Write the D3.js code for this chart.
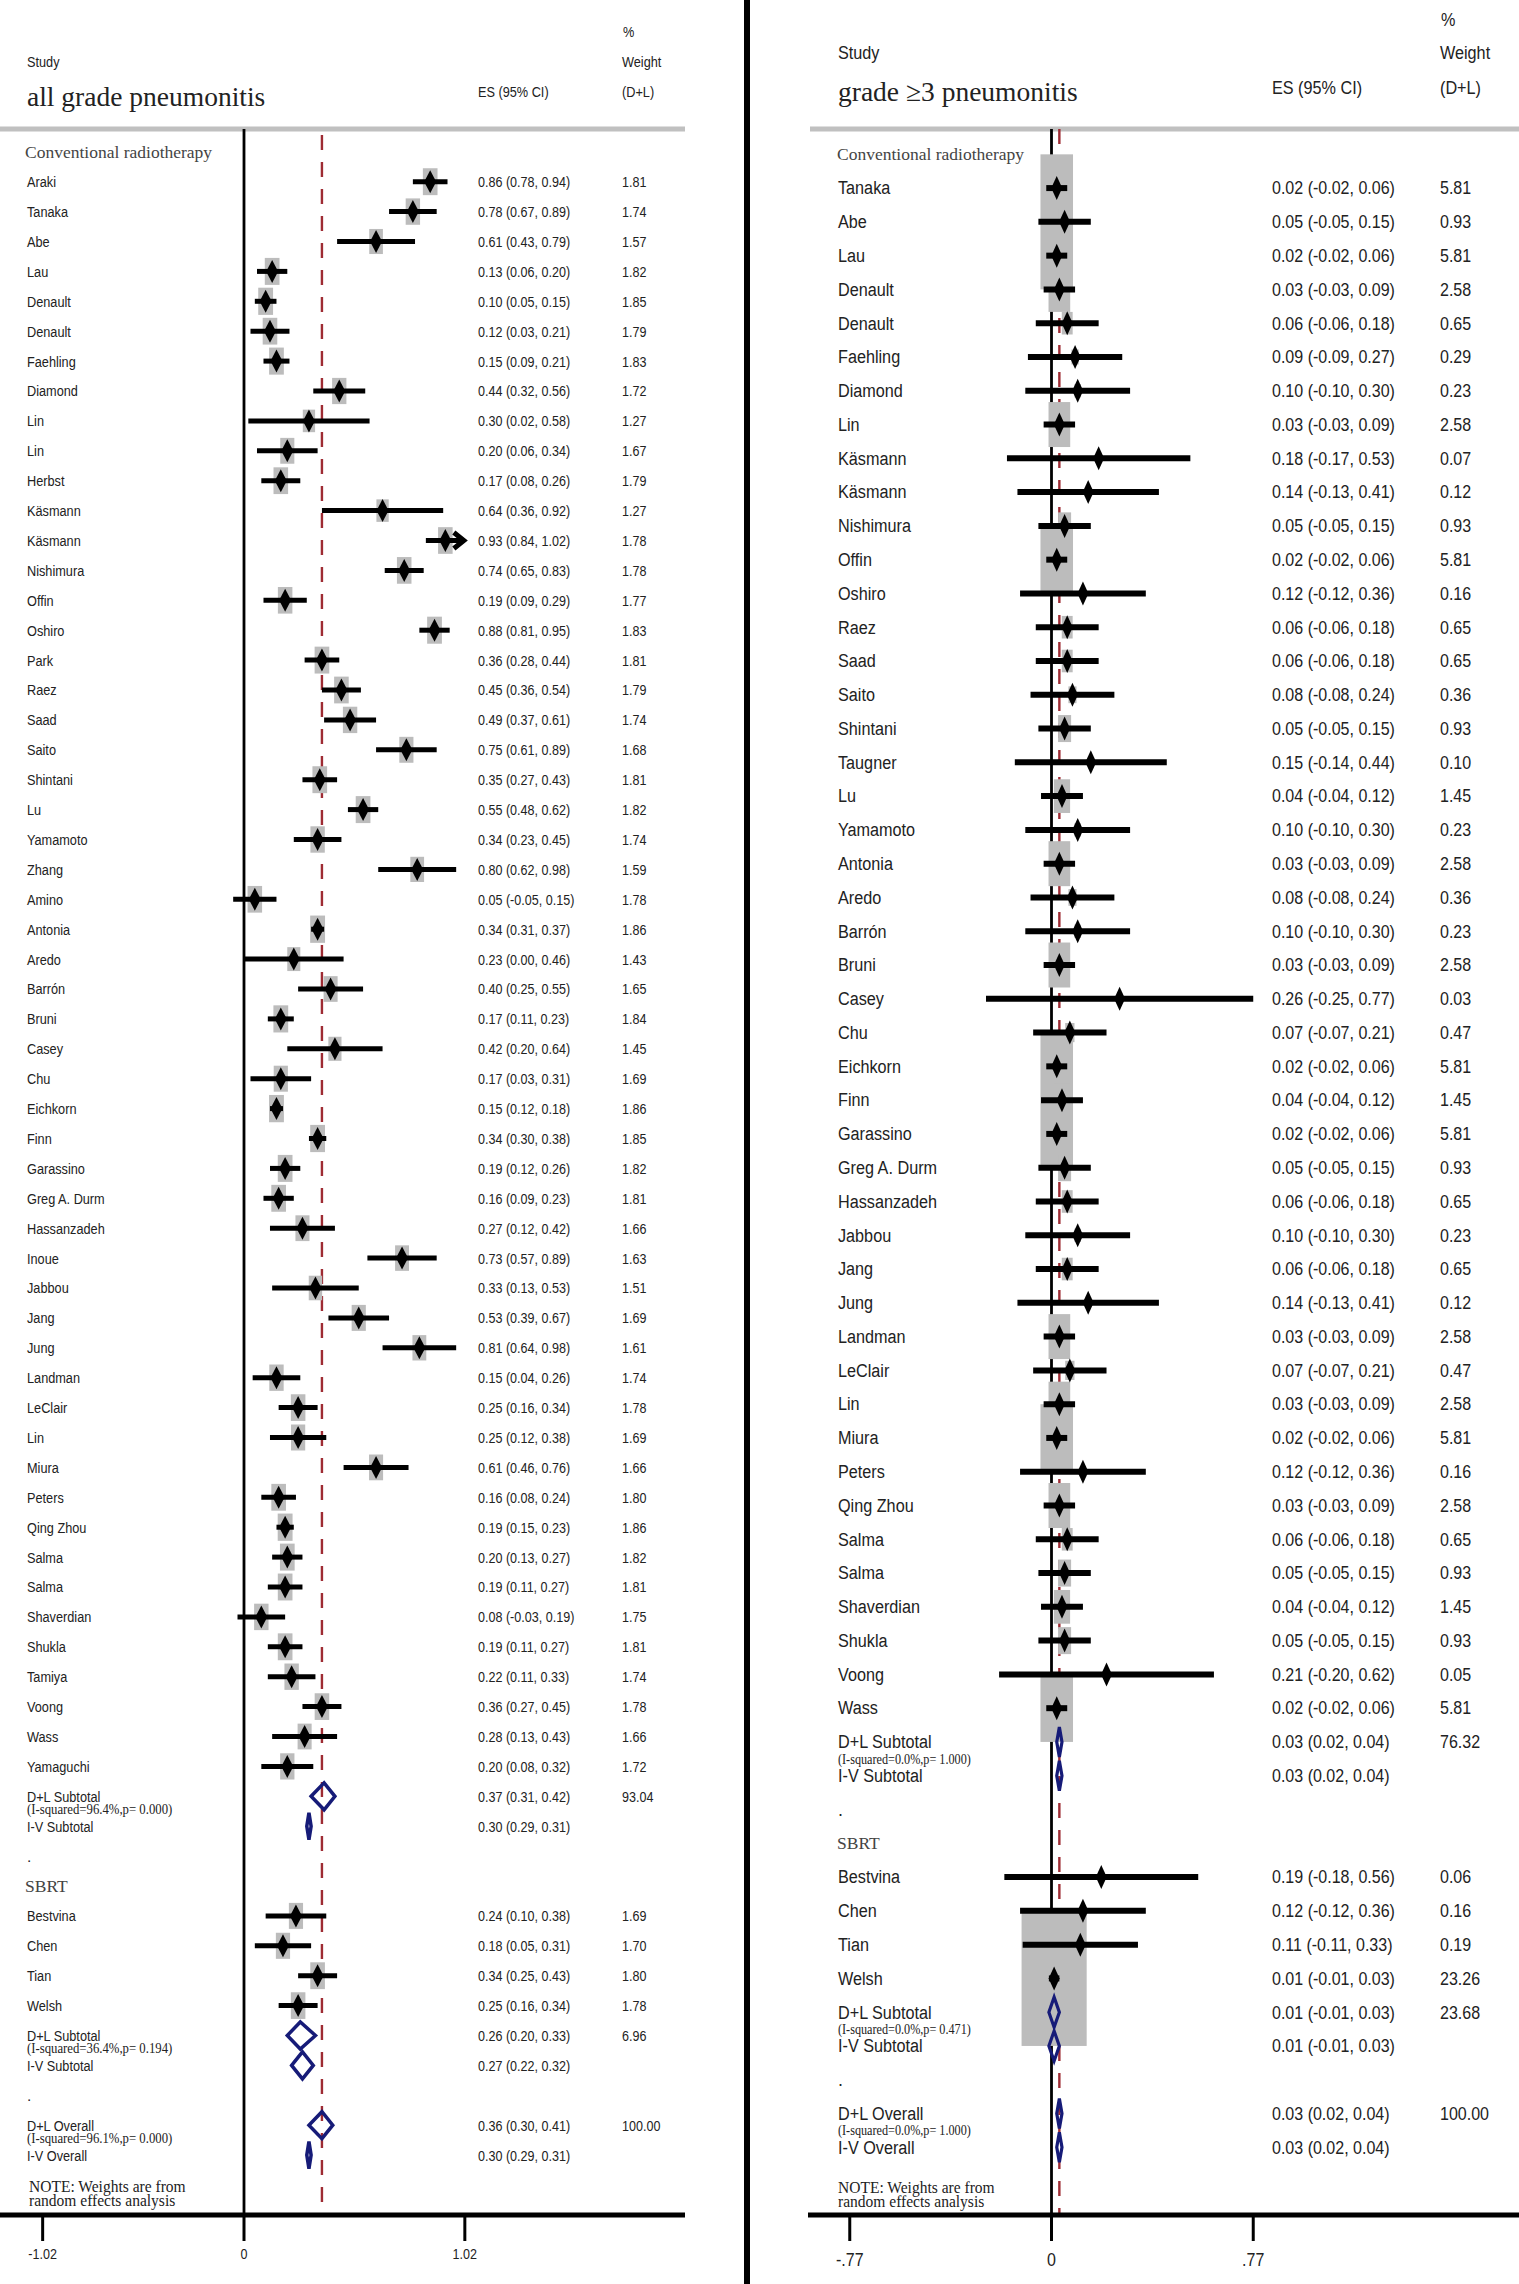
<!DOCTYPE html>
<html>
<head>
<meta charset="utf-8">
<script src="https://cdn.jsdelivr.net/npm/d3@7"></script>
<style>
  body { margin: 0; background: #fff; }
</style>
</head>
<body>
<svg id="chart"></svg>
<script>
// ---------- all grade pneumonitis ----------
const allConvNames = ["Araki", "Tanaka", "Abe", "Lau", "Denault", "Denault", "Faehling", "Diamond", "Lin", "Lin",
  "Herbst", "Käsmann", "Käsmann", "Nishimura", "Offin", "Oshiro", "Park", "Raez", "Saad", "Saito",
  "Shintani", "Lu", "Yamamoto", "Zhang", "Amino", "Antonia", "Aredo", "Barrón", "Bruni", "Casey",
  "Chu", "Eichkorn", "Finn", "Garassino", "Greg A. Durm", "Hassanzadeh", "Inoue", "Jabbou", "Jang", "Jung",
  "Landman", "LeClair", "Lin", "Miura", "Peters", "Qing Zhou", "Salma", "Salma", "Shaverdian", "Shukla",
  "Tamiya", "Voong", "Wass", "Yamaguchi"]
const allConvEs = [0.86, 0.78, 0.61, 0.13, 0.10, 0.12, 0.15, 0.44, 0.30, 0.20,
  0.17, 0.64, 0.93, 0.74, 0.19, 0.88, 0.36, 0.45, 0.49, 0.75,
  0.35, 0.55, 0.34, 0.80, 0.05, 0.34, 0.23, 0.40, 0.17, 0.42,
  0.17, 0.15, 0.34, 0.19, 0.16, 0.27, 0.73, 0.33, 0.53, 0.81,
  0.15, 0.25, 0.25, 0.61, 0.16, 0.19, 0.20, 0.19, 0.08, 0.19,
  0.22, 0.36, 0.28, 0.20]
const allConvLo = [0.78, 0.67, 0.43, 0.06, 0.05, 0.03, 0.09, 0.32, 0.02, 0.06,
  0.08, 0.36, 0.84, 0.65, 0.09, 0.81, 0.28, 0.36, 0.37, 0.61,
  0.27, 0.48, 0.23, 0.62, -0.05, 0.31, 0.00, 0.25, 0.11, 0.20,
  0.03, 0.12, 0.30, 0.12, 0.09, 0.12, 0.57, 0.13, 0.39, 0.64,
  0.04, 0.16, 0.12, 0.46, 0.08, 0.15, 0.13, 0.11, -0.03, 0.11,
  0.11, 0.27, 0.13, 0.08]
const allConvHi = [0.94, 0.89, 0.79, 0.20, 0.15, 0.21, 0.21, 0.56, 0.58, 0.34,
  0.26, 0.92, 1.02, 0.83, 0.29, 0.95, 0.44, 0.54, 0.61, 0.89,
  0.43, 0.62, 0.45, 0.98, 0.15, 0.37, 0.46, 0.55, 0.23, 0.64,
  0.31, 0.18, 0.38, 0.26, 0.23, 0.42, 0.89, 0.53, 0.67, 0.98,
  0.26, 0.34, 0.38, 0.76, 0.24, 0.23, 0.27, 0.27, 0.19, 0.27,
  0.33, 0.45, 0.43, 0.32]
const allConvWt = [1.81, 1.74, 1.57, 1.82, 1.85, 1.79, 1.83, 1.72, 1.27, 1.67,
  1.79, 1.27, 1.78, 1.78, 1.77, 1.83, 1.81, 1.79, 1.74, 1.68,
  1.81, 1.82, 1.74, 1.59, 1.78, 1.86, 1.43, 1.65, 1.84, 1.45,
  1.69, 1.86, 1.85, 1.82, 1.81, 1.66, 1.63, 1.51, 1.69, 1.61,
  1.74, 1.78, 1.69, 1.66, 1.80, 1.86, 1.82, 1.81, 1.75, 1.81,
  1.74, 1.78, 1.66, 1.72]
const allSbrtNames = ["Bestvina", "Chen", "Tian", "Welsh"]
const allSbrtEs = [0.24, 0.18, 0.34, 0.25]
const allSbrtLo = [0.10, 0.05, 0.25, 0.16]
const allSbrtHi = [0.38, 0.31, 0.43, 0.34]
const allSbrtWt = [1.69, 1.70, 1.80, 1.78]
// pooled rows: conv D+L, conv I-V, SBRT D+L, SBRT I-V, overall D+L, overall I-V
const allPoolEs = [0.37, 0.30, 0.26, 0.27, 0.36, 0.30]
const allPoolLo = [0.31, 0.29, 0.20, 0.22, 0.30, 0.29]
const allPoolHi = [0.42, 0.31, 0.33, 0.32, 0.41, 0.31]
const allPoolWt = [93.04, null, 6.96, null, 100.00, null]
const allHet = ["(I-squared=96.4%,p= 0.000)", "(I-squared=36.4%,p= 0.194)", "(I-squared=96.1%,p= 0.000)"]
const allTickVals = [-0.93, 0, 1.02]
const allTickLabels = ["-1.02", "0", "1.02"]

// ---------- grade >=3 pneumonitis ----------
const g3ConvNames = ["Tanaka", "Abe", "Lau", "Denault", "Denault", "Faehling", "Diamond", "Lin", "Käsmann", "Käsmann",
  "Nishimura", "Offin", "Oshiro", "Raez", "Saad", "Saito", "Shintani", "Taugner", "Lu", "Yamamoto",
  "Antonia", "Aredo", "Barrón", "Bruni", "Casey", "Chu", "Eichkorn", "Finn", "Garassino", "Greg A. Durm",
  "Hassanzadeh", "Jabbou", "Jang", "Jung", "Landman", "LeClair", "Lin", "Miura", "Peters", "Qing Zhou",
  "Salma", "Salma", "Shaverdian", "Shukla", "Voong", "Wass"]
const g3ConvEs = [0.02, 0.05, 0.02, 0.03, 0.06, 0.09, 0.10, 0.03, 0.18, 0.14,
  0.05, 0.02, 0.12, 0.06, 0.06, 0.08, 0.05, 0.15, 0.04, 0.10,
  0.03, 0.08, 0.10, 0.03, 0.26, 0.07, 0.02, 0.04, 0.02, 0.05,
  0.06, 0.10, 0.06, 0.14, 0.03, 0.07, 0.03, 0.02, 0.12, 0.03,
  0.06, 0.05, 0.04, 0.05, 0.21, 0.02]
const g3ConvLo = [-0.02, -0.05, -0.02, -0.03, -0.06, -0.09, -0.10, -0.03, -0.17, -0.13,
  -0.05, -0.02, -0.12, -0.06, -0.06, -0.08, -0.05, -0.14, -0.04, -0.10,
  -0.03, -0.08, -0.10, -0.03, -0.25, -0.07, -0.02, -0.04, -0.02, -0.05,
  -0.06, -0.10, -0.06, -0.13, -0.03, -0.07, -0.03, -0.02, -0.12, -0.03,
  -0.06, -0.05, -0.04, -0.05, -0.20, -0.02]
const g3ConvHi = [0.06, 0.15, 0.06, 0.09, 0.18, 0.27, 0.30, 0.09, 0.53, 0.41,
  0.15, 0.06, 0.36, 0.18, 0.18, 0.24, 0.15, 0.44, 0.12, 0.30,
  0.09, 0.24, 0.30, 0.09, 0.77, 0.21, 0.06, 0.12, 0.06, 0.15,
  0.18, 0.30, 0.18, 0.41, 0.09, 0.21, 0.09, 0.06, 0.36, 0.09,
  0.18, 0.15, 0.12, 0.15, 0.62, 0.06]
const g3ConvWt = [5.81, 0.93, 5.81, 2.58, 0.65, 0.29, 0.23, 2.58, 0.07, 0.12,
  0.93, 5.81, 0.16, 0.65, 0.65, 0.36, 0.93, 0.10, 1.45, 0.23,
  2.58, 0.36, 0.23, 2.58, 0.03, 0.47, 5.81, 1.45, 5.81, 0.93,
  0.65, 0.23, 0.65, 0.12, 2.58, 0.47, 2.58, 5.81, 0.16, 2.58,
  0.65, 0.93, 1.45, 0.93, 0.05, 5.81]
const g3SbrtNames = ["Bestvina", "Chen", "Tian", "Welsh"]
const g3SbrtEs = [0.19, 0.12, 0.11, 0.01]
const g3SbrtLo = [-0.18, -0.12, -0.11, -0.01]
const g3SbrtHi = [0.56, 0.36, 0.33, 0.03]
const g3SbrtWt = [0.06, 0.16, 0.19, 23.26]
const g3PoolEs = [0.03, 0.03, 0.01, 0.01, 0.03, 0.03]
const g3PoolLo = [0.02, 0.02, -0.01, -0.01, 0.02, 0.02]
const g3PoolHi = [0.04, 0.04, 0.03, 0.03, 0.04, 0.04]
const g3PoolWt = [76.32, null, 23.68, null, 100.00, null]
const g3Het = ["(I-squared=0.0%,p= 1.000)", "(I-squared=0.0%,p= 0.471)", "(I-squared=0.0%,p= 1.000)"]
const g3TickVals = [-0.77, 0, 0.77]
const g3TickLabels = ["-.77", "0", ".77"]

const W = 1519, H = 2284
const SANS = "'Liberation Sans', Arial, sans-serif"
const SERIF = "'Liberation Serif', 'Times New Roman', serif"
const NAVY = '#161b78'
const REDLINE = '#9e2b33'
const BOXGRAY = '#bcbcbc'

const svg = d3.select('#chart')
    .attr('width', W)
    .attr('height', H)
svg.append('rect')
    .attr('width', W)
    .attr('height', H)
    .attr('fill', '#fff')

// squeeze text horizontally (the original uses a narrow face)
function squeeze(sel, f) {
    sel.each(function() {
        let len = this.getComputedTextLength()
        if (len > 0) {
            d3.select(this)
                .attr('textLength', len * f)
                .attr('lengthAdjust', 'spacingAndGlyphs')
        }
    })
    return sel
}

function fmt(v) {
    return v.toFixed(2)
}

function buildRows(d) {
    let rows = []
    rows.push({ type: 'group', label: 'Conventional radiotherapy' })
    d.convNames.forEach((n, i) => {
        rows.push({ type: 'study', label: n, es: d.convEs[i], lo: d.convLo[i], hi: d.convHi[i], wt: d.convWt[i] })
    })
    rows.push({ type: 'pool', label: 'D+L Subtotal', k: 0, het: d.het[0] })
    rows.push({ type: 'pool', label: 'I-V Subtotal', k: 1 })
    rows.push({ type: 'dot' })
    rows.push({ type: 'group', label: 'SBRT' })
    d.sbrtNames.forEach((n, i) => {
        rows.push({ type: 'study', label: n, es: d.sbrtEs[i], lo: d.sbrtLo[i], hi: d.sbrtHi[i], wt: d.sbrtWt[i] })
    })
    rows.push({ type: 'pool', label: 'D+L Subtotal', k: 2, het: d.het[1] })
    rows.push({ type: 'pool', label: 'I-V Subtotal', k: 3 })
    rows.push({ type: 'dot' })
    rows.push({ type: 'pool', label: 'D+L Overall', k: 4, het: d.het[2] })
    rows.push({ type: 'pool', label: 'I-V Overall', k: 5 })
    rows.push({ type: 'note' })
    rows.forEach((r, i) => {
        r.i = i
        if (r.type == 'pool') {
            r.es = d.poolEs[r.k]
            r.lo = d.poolLo[r.k]
            r.hi = d.poolHi[r.k]
            r.wt = d.poolWt[r.k]
        }
    })
    return rows
}

function drawPanel(c, d) {
    let g = svg.append('g')
    let x = d3.scaleLinear()
        .domain([0, 1])
        .range([c.zeroX, c.zeroX + c.ppu])
    let rows = buildRows(d)
    let y = d3.scaleLinear()
        .domain([0, 1])
        .range([c.y0, c.y0 + c.step])
    let studies = rows.filter(r => r.type == 'study')
    let pools = rows.filter(r => r.type == 'pool')

    // header
    g.append('line')
        .attr('x1', c.hdrX1).attr('x2', c.hdrX2)
        .attr('y1', 129).attr('y2', 129)
        .attr('stroke', '#c0c0c0').attr('stroke-width', 5)

    let hdr = [
        ['Study', c.nameX, c.hStudyY],
        ['ES (95% CI)', c.esX, c.hEsY],
        ['%', c.wtX + 1, c.hPctY],
        ['Weight', c.wtX, c.hStudyY],
        ['(D+L)', c.wtX, c.hEsY]
    ]
    hdr.forEach(h => {
        squeeze(g.append('text')
            .attr('x', h[1]).attr('y', h[2])
            .attr('dy', '0.35em')
            .attr('font-family', SANS)
            .attr('font-size', c.fs)
            .attr('fill', '#222')
            .text(h[0]), c.sqName)
    })
    g.append('text')
        .attr('x', c.nameX).attr('y', c.titleY)
        .attr('dy', '0.32em')
        .attr('font-family', SERIF)
        .attr('font-size', 27.5)
        .attr('fill', '#222')
        .text(c.title)

    // zero line and overall (D+L) reference line
    g.append('line')
        .attr('x1', x(0)).attr('x2', x(0))
        .attr('y1', 129).attr('y2', c.axisY)
        .attr('stroke', '#000').attr('stroke-width', 2.8)
    let ref = d.poolEs[4]
    g.append('line')
        .attr('x1', x(ref)).attr('x2', x(ref))
        .attr('y1', c.refTop).attr('y2', c.axisY)
        .attr('stroke', REDLINE).attr('stroke-width', 2.4)
        .attr('stroke-dasharray', '15 12')

    // weight boxes
    g.selectAll('.box')
        .data(studies)
        .enter().append('rect')
        .attr('class', 'box')
        .attr('x', r => x(r.es) - c.boxW * Math.sqrt(r.wt) / 2)
        .attr('y', r => y(r.i) - c.boxH * Math.sqrt(r.wt) / 2)
        .attr('width', r => c.boxW * Math.sqrt(r.wt))
        .attr('height', r => c.boxH * Math.sqrt(r.wt))
        .attr('fill', BOXGRAY)

    // confidence intervals (an arrow marks a CI running past the axis end)
    let xMax = d.tickVals[d.tickVals.length - 1]
    let clipped = r => c.arrows && r.hi >= xMax
    g.selectAll('.ci')
        .data(studies)
        .enter().append('line')
        .attr('class', 'ci')
        .attr('x1', r => x(r.lo))
        .attr('x2', r => clipped(r) ? x(xMax) - 4 : x(r.hi))
        .attr('y1', r => y(r.i)).attr('y2', r => y(r.i))
        .attr('stroke', '#000').attr('stroke-width', c.ciW)
    g.selectAll('.arrow')
        .data(studies.filter(clipped))
        .enter().append('path')
        .attr('class', 'arrow')
        .attr('d', r => {
            let tx = x(xMax), ty = y(r.i)
            return 'M' + (tx - 11) + ',' + (ty - 8) + 'L' + (tx - 1) + ',' + ty + 'L' + (tx - 11) + ',' + (ty + 8)
        })
        .attr('fill', 'none').attr('stroke', '#000').attr('stroke-width', 5)

    // point estimates
    g.selectAll('.mk')
        .data(studies)
        .enter().append('path')
        .attr('class', 'mk')
        .attr('d', r => {
            let cx = x(r.es), cy = y(r.i), w = c.mkW / 2, h = c.mkH / 2
            return 'M' + (cx - w) + ',' + cy + 'L' + cx + ',' + (cy - h) + 'L' + (cx + w) + ',' + cy + 'L' + cx + ',' + (cy + h) + 'Z'
        })
        .attr('fill', '#000')

    // pooled diamonds
    g.selectAll('.dia')
        .data(pools)
        .enter().append('path')
        .attr('class', 'dia')
        .attr('d', r => {
            let cy = y(r.i), h = c.diaH / 2
            return 'M' + x(r.lo) + ',' + cy + 'L' + x(r.es) + ',' + (cy - h) + 'L' + x(r.hi) + ',' + cy + 'L' + x(r.es) + ',' + (cy + h) + 'Z'
        })
        .attr('fill', 'none')
        .attr('stroke', NAVY).attr('stroke-width', c.diaSW)
        .attr('stroke-linejoin', 'miter')

    // row texts
    rows.forEach(r => {
        let ry = y(r.i)
        if (r.type == 'group') {
            g.append('text')
                .attr('x', c.groupX).attr('y', ry)
                .attr('dy', '0.33em')
                .attr('font-family', SERIF).attr('font-size', 17.5)
                .attr('fill', '#444')
                .text(r.label)
        } else if (r.type == 'dot') {
            g.append('text')
                .attr('x', c.nameX).attr('y', ry)
                .attr('dy', '0.35em')
                .attr('font-family', SANS).attr('font-size', c.fs)
                .attr('fill', '#222')
                .text('.')
        } else if (r.type == 'note') {
            ['NOTE: Weights are from', 'random effects analysis'].forEach((t, j) => {
                squeeze(g.append('text')
                    .attr('x', c.noteX).attr('y', ry + c.noteDy + j * 14)
                    .attr('dy', '0.33em')
                    .attr('font-family', SERIF).attr('font-size', 16)
                    .attr('fill', '#222')
                    .text(t), 0.97)
            })
        } else {
            squeeze(g.append('text')
                .attr('x', c.nameX).attr('y', ry)
                .attr('dy', '0.35em')
                .attr('font-family', SANS).attr('font-size', c.fs)
                .attr('fill', '#222')
                .text(r.label), c.sqName)
            squeeze(g.append('text')
                .attr('x', c.esX).attr('y', ry)
                .attr('dy', '0.35em')
                .attr('font-family', SANS).attr('font-size', c.fs)
                .attr('fill', '#222')
                .text(fmt(r.es) + ' (' + fmt(r.lo) + ', ' + fmt(r.hi) + ')'), c.sqNum)
            if (r.wt != null) {
                squeeze(g.append('text')
                    .attr('x', c.wtX).attr('y', ry)
                    .attr('dy', '0.35em')
                    .attr('font-family', SANS).attr('font-size', c.fs)
                    .attr('fill', '#222')
                    .text(fmt(r.wt)), c.sqNum)
            }
            if (r.het) {
                squeeze(g.append('text')
                    .attr('x', c.nameX).attr('y', ry + c.hetDy)
                    .attr('dy', '0.33em')
                    .attr('font-family', SERIF).attr('font-size', 14)
                    .attr('fill', '#222')
                    .text(r.het), c.sqHet)
            }
        }
    })

    // bottom axis
    g.append('line')
        .attr('x1', c.axX1).attr('x2', c.axX2)
        .attr('y1', c.axisY).attr('y2', c.axisY)
        .attr('stroke', '#000').attr('stroke-width', 5)
    d.tickVals.forEach((v, j) => {
        g.append('line')
            .attr('x1', x(v)).attr('x2', x(v))
            .attr('y1', c.axisY).attr('y2', c.axisY + 26)
            .attr('stroke', '#000').attr('stroke-width', 3)
        squeeze(g.append('text')
            .attr('x', x(v)).attr('y', c.tickLabY)
            .attr('dy', '0.35em')
            .attr('text-anchor', 'middle')
            .attr('font-family', SANS).attr('font-size', c.fs)
            .attr('fill', '#222')
            .text(d.tickLabels[j]), c.sqNum)
    })
}

drawPanel({
    title: 'all grade pneumonitis',
    zeroX: 244, ppu: 216.5,
    y0: 151.8, step: 29.9,
    nameX: 27, groupX: 25, esX: 478, wtX: 622, noteX: 29, noteDy: 2,
    hStudyY: 62, hEsY: 92, hPctY: 32, titleY: 97,
    hdrX1: 0, hdrX2: 685, axX1: 0, axX2: 685, axisY: 2215, tickLabY: 2254, refTop: 135,
    fs: 15.5, sqName: 0.82, sqNum: 0.81, sqHet: 0.91, arrows: true,
    boxW: 10.9, boxH: 20, mkW: 12, mkH: 23, ciW: 5, diaH: 27, diaSW: 3.5, hetDy: 13
}, {
    convNames: allConvNames, convEs: allConvEs, convLo: allConvLo, convHi: allConvHi, convWt: allConvWt,
    sbrtNames: allSbrtNames, sbrtEs: allSbrtEs, sbrtLo: allSbrtLo, sbrtHi: allSbrtHi, sbrtWt: allSbrtWt,
    poolEs: allPoolEs, poolLo: allPoolLo, poolHi: allPoolHi, poolWt: allPoolWt, het: allHet,
    tickVals: allTickVals, tickLabels: allTickLabels
})

drawPanel({
    title: 'grade ≥3 pneumonitis',
    zeroX: 1051.5, ppu: 262,
    y0: 154.3, step: 33.78,
    nameX: 838, groupX: 837, esX: 1272, wtX: 1440, noteX: 838, noteDy: 7,
    hStudyY: 53, hEsY: 88, hPctY: 20, titleY: 92,
    hdrX1: 810, hdrX2: 1519, axX1: 808, axX2: 1519, axisY: 2215, tickLabY: 2260, refTop: 129,
    fs: 18, sqName: 0.9, sqNum: 0.89, sqHet: 0.87, arrows: false,
    boxW: 13.5, boxH: 28, mkW: 11, mkH: 24, ciW: 6, diaH: 30, diaSW: 3.2, hetDy: 17
}, {
    convNames: g3ConvNames, convEs: g3ConvEs, convLo: g3ConvLo, convHi: g3ConvHi, convWt: g3ConvWt,
    sbrtNames: g3SbrtNames, sbrtEs: g3SbrtEs, sbrtLo: g3SbrtLo, sbrtHi: g3SbrtHi, sbrtWt: g3SbrtWt,
    poolEs: g3PoolEs, poolLo: g3PoolLo, poolHi: g3PoolHi, poolWt: g3PoolWt, het: g3Het,
    tickVals: g3TickVals, tickLabels: g3TickLabels
})

// panel separator
svg.append('line')
    .attr('x1', 747).attr('x2', 747)
    .attr('y1', 0).attr('y2', H)
    .attr('stroke', '#000').attr('stroke-width', 6)
</script>
</body>
</html>
